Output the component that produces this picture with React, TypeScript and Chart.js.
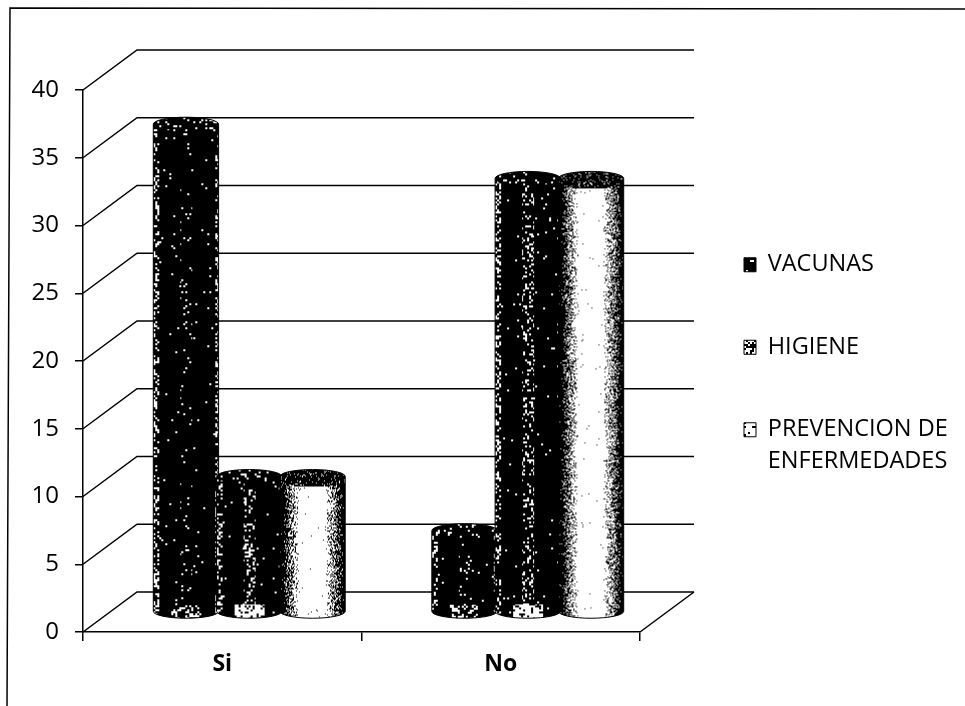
import React, { useEffect, useRef } from "react";
import { Chart, registerables } from "chart.js";

Chart.register(...registerables);

const categories = ["Si", "No"];
const vacunas = [36, 6];
const higiene = [10, 32];
const prevencion = [10, 32];
const seriesNames: (string | string[])[] = ["VACUNAS", "HIGIENE", ["PREVENCION DE", "ENFERMEDADES"]];
const yTicksMax = 40;
const yTickStep = 5;

const FONT = "'Open Sans', sans-serif";
const INK = "#000000";
const DEPTH_X = 54;
const DEPTH_Y = 40;
const CAP = 7;

function grain(x: number, y: number, seed: number) {
  const v = Math.sin(x * 12.9898 + y * 78.233 + seed * 37.719) * 43758.5453;
  return v - Math.floor(v);
}

function ramp(u: number, a: number, b: number) {
  return Math.min(1, Math.max(0, (u - a) / (b - a)));
}

function tone(series: number, u: number, rowFromBottom: number) {
  if (series === 2) {
    const left = ramp(u, 0.05, 0.3);
    const right = 1 - ramp(u, 0.68, 0.96);
    return Math.min(left, right) * 0.98 + 0.015;
  }
  const c = Math.abs(u - 0.5);
  const bottom = rowFromBottom < 15 && c < 0.22 ? (series === 1 ? 0.8 : 0.3) : 0;
  const edge = u < 0.09 ? 0.3 : u > 0.94 ? (series === 1 ? 0.05 : 0.3) : 0;
  const mid = c < 0.09 ? (series === 1 ? 0.22 : 0.045) : 0;
  return Math.max(0.012, bottom, edge, mid);
}

function cylinderTexture(series: number, w: number, h: number, seed: number) {
  const c = document.createElement("canvas");
  c.width = w;
  c.height = h;
  const ctx = c.getContext("2d")!;
  const img = ctx.createImageData(w, h);
  const block = series === 2 ? 1 : 2;
  for (let y = 0; y < h; y++) {
    for (let x = 0; x < w; x++) {
      const u = (x + 0.5) / w;
      const arc = Math.sqrt(Math.max(0, 1 - (2 * u - 1) ** 2));
      const capEdge = CAP + CAP * arc;
      const t = y < capEdge + (series === 2 ? 3 : 0) ? 0.1 : tone(series, u, h - y);
      const white = grain(Math.floor(x / block), Math.floor(y / block), seed) < t;
      const i = (y * w + x) * 4;
      const v = white ? 255 : 0;
      img.data[i] = v;
      img.data[i + 1] = v;
      img.data[i + 2] = v;
      img.data[i + 3] = 255;
    }
  }
  ctx.putImageData(img, 0, 0);
  return c;
}

function legendSwatch(series: number) {
  const c = document.createElement("canvas");
  c.width = 14;
  c.height = 14;
  const ctx = c.getContext("2d")!;
  const t = [0.12, 0.55, 0.95][series];
  for (let y = 0; y < 14; y++) {
    for (let x = 0; x < 14; x++) {
      ctx.fillStyle = grain(Math.floor(x / 2), Math.floor(y / 2), series + 5) < t ? "#fff" : "#000";
      ctx.fillRect(x, y, 1, 1);
    }
  }
  return ctx.createPattern(c, "repeat")!;
}

const frameAndWalls = {
  id: "frameAndWalls",
  afterLayout(chart: any) {
    chart.legend.left = 685;
    chart.legend.top = 194;
  },
  beforeDatasetsDraw(chart: any) {
    const { ctx, chartArea, scales } = chart;
    ctx.save();
    ctx.strokeStyle = INK;
    ctx.lineWidth = 1.5;
    ctx.beginPath();
    ctx.moveTo(965, 9);
    ctx.lineTo(10, 8);
    ctx.lineTo(7, 706);
    ctx.stroke();
    for (const tick of scales.y.ticks) {
      const py = scales.y.getPixelForValue(tick.value);
      ctx.beginPath();
      ctx.moveTo(chartArea.left, py);
      ctx.lineTo(chartArea.left + DEPTH_X, py - DEPTH_Y);
      ctx.lineTo(chartArea.right + DEPTH_X, py - DEPTH_Y);
      ctx.stroke();
    }
    ctx.beginPath();
    ctx.moveTo(chartArea.right, chartArea.bottom);
    ctx.lineTo(chartArea.right + DEPTH_X, chartArea.bottom - DEPTH_Y);
    ctx.stroke();
    ctx.restore();
    ctx.save();
    ctx.beginPath();
    ctx.rect(0, 0, 0, 0);
    ctx.clip();
  },
  afterDatasetsDraw(chart: any) {
    const { ctx } = chart;
    ctx.restore();
    ctx.save();
    ctx.translate(DEPTH_X / 2, -DEPTH_Y / 2);
    chart.data.datasets.forEach((_: any, di: number) => {
      const meta = chart.getDatasetMeta(di);
      meta.data.forEach((el: any, idx: number) => {
        const w = el.width + 2;
        const x0 = el.x - w / 2;
        const top = el.y;
        const base = el.base;
        const shape = () => {
          ctx.beginPath();
          ctx.moveTo(x0, top);
          ctx.ellipse(el.x, top, w / 2, CAP, 0, Math.PI, 0, false);
          ctx.lineTo(x0 + w, base);
          ctx.ellipse(el.x, base, w / 2, CAP, 0, 0, Math.PI, false);
          ctx.closePath();
        };
        ctx.save();
        shape();
        ctx.clip();
        const tw = Math.ceil(w);
        const th = Math.ceil(base - top + CAP * 2);
        ctx.drawImage(cylinderTexture(di, tw, th, di * 3 + idx + 1), x0, top - CAP);
        ctx.restore();
        ctx.strokeStyle = INK;
        ctx.lineWidth = 1;
        shape();
        ctx.stroke();
      });
    });
    ctx.restore();
  },
};

export default function App() {
  const ref = useRef<HTMLCanvasElement>(null);
  useEffect(() => {
    const values = [vacunas, higiene, prevencion];
    const chart = new Chart(ref.current!, {
      type: "bar",
      data: {
        labels: categories,
        datasets: values.map((data, i) => ({
          label: seriesNames[i] as any,
          data,
          backgroundColor: legendSwatch(i) as any,
          borderColor: INK,
          borderWidth: 1,
          categoryPercentage: 0.682,
          barPercentage: 1,
        })),
      },
      options: {
        responsive: false,
        animation: false,
        layout: { padding: { top: 90, left: 0, right: 0, bottom: 0 } },
        plugins: {
          title: { display: false },
          tooltip: { enabled: false },
          legend: {
            position: "right",
            align: "start",
            labels: {
              boxWidth: 12,
              boxHeight: 14,
              padding: 59,
              color: INK,
              font: { family: FONT, size: 23.5, lineHeight: 1.36, weight: "500" },
            },
          },
        },
        scales: {
          x: {
            afterFit: (s: any) => {
              s.height = 74;
            },
            grid: { offset: true, drawOnChartArea: false, tickLength: 9, color: INK, lineWidth: 1.5 },
            border: { color: INK, width: 1.5 },
            ticks: { color: INK, padding: 10, font: { family: FONT, size: 23, weight: "bold" } },
          },
          y: {
            min: 0,
            max: yTicksMax,
            afterFit: (s: any) => {
              s.width = 83;
            },
            grid: { drawOnChartArea: false, tickLength: 8, color: INK, lineWidth: 1.5 },
            border: { color: INK, width: 1.5 },
            ticks: { stepSize: yTickStep, color: INK, padding: 16, font: { family: FONT, size: 24, weight: "500" } },
          },
          spacer: {
            type: "linear",
            axis: "y",
            position: "right",
            grid: { display: false },
            border: { display: false },
            ticks: { display: false },
            afterFit: (s: any) => {
              s.width = Math.max(0, 325 - (s.chart.legend?.width ?? 0));
            },
          },
        },
      } as any,
      plugins: [frameAndWalls],
    });
    return () => chart.destroy();
  }, []);
  return (
    <div style={{ position: "absolute", left: 0, top: 0, width: 965, height: 706, background: "#fff" }}>
      <canvas ref={ref} width={965} height={706} style={{ display: "block" }} />
    </div>
  );
}
